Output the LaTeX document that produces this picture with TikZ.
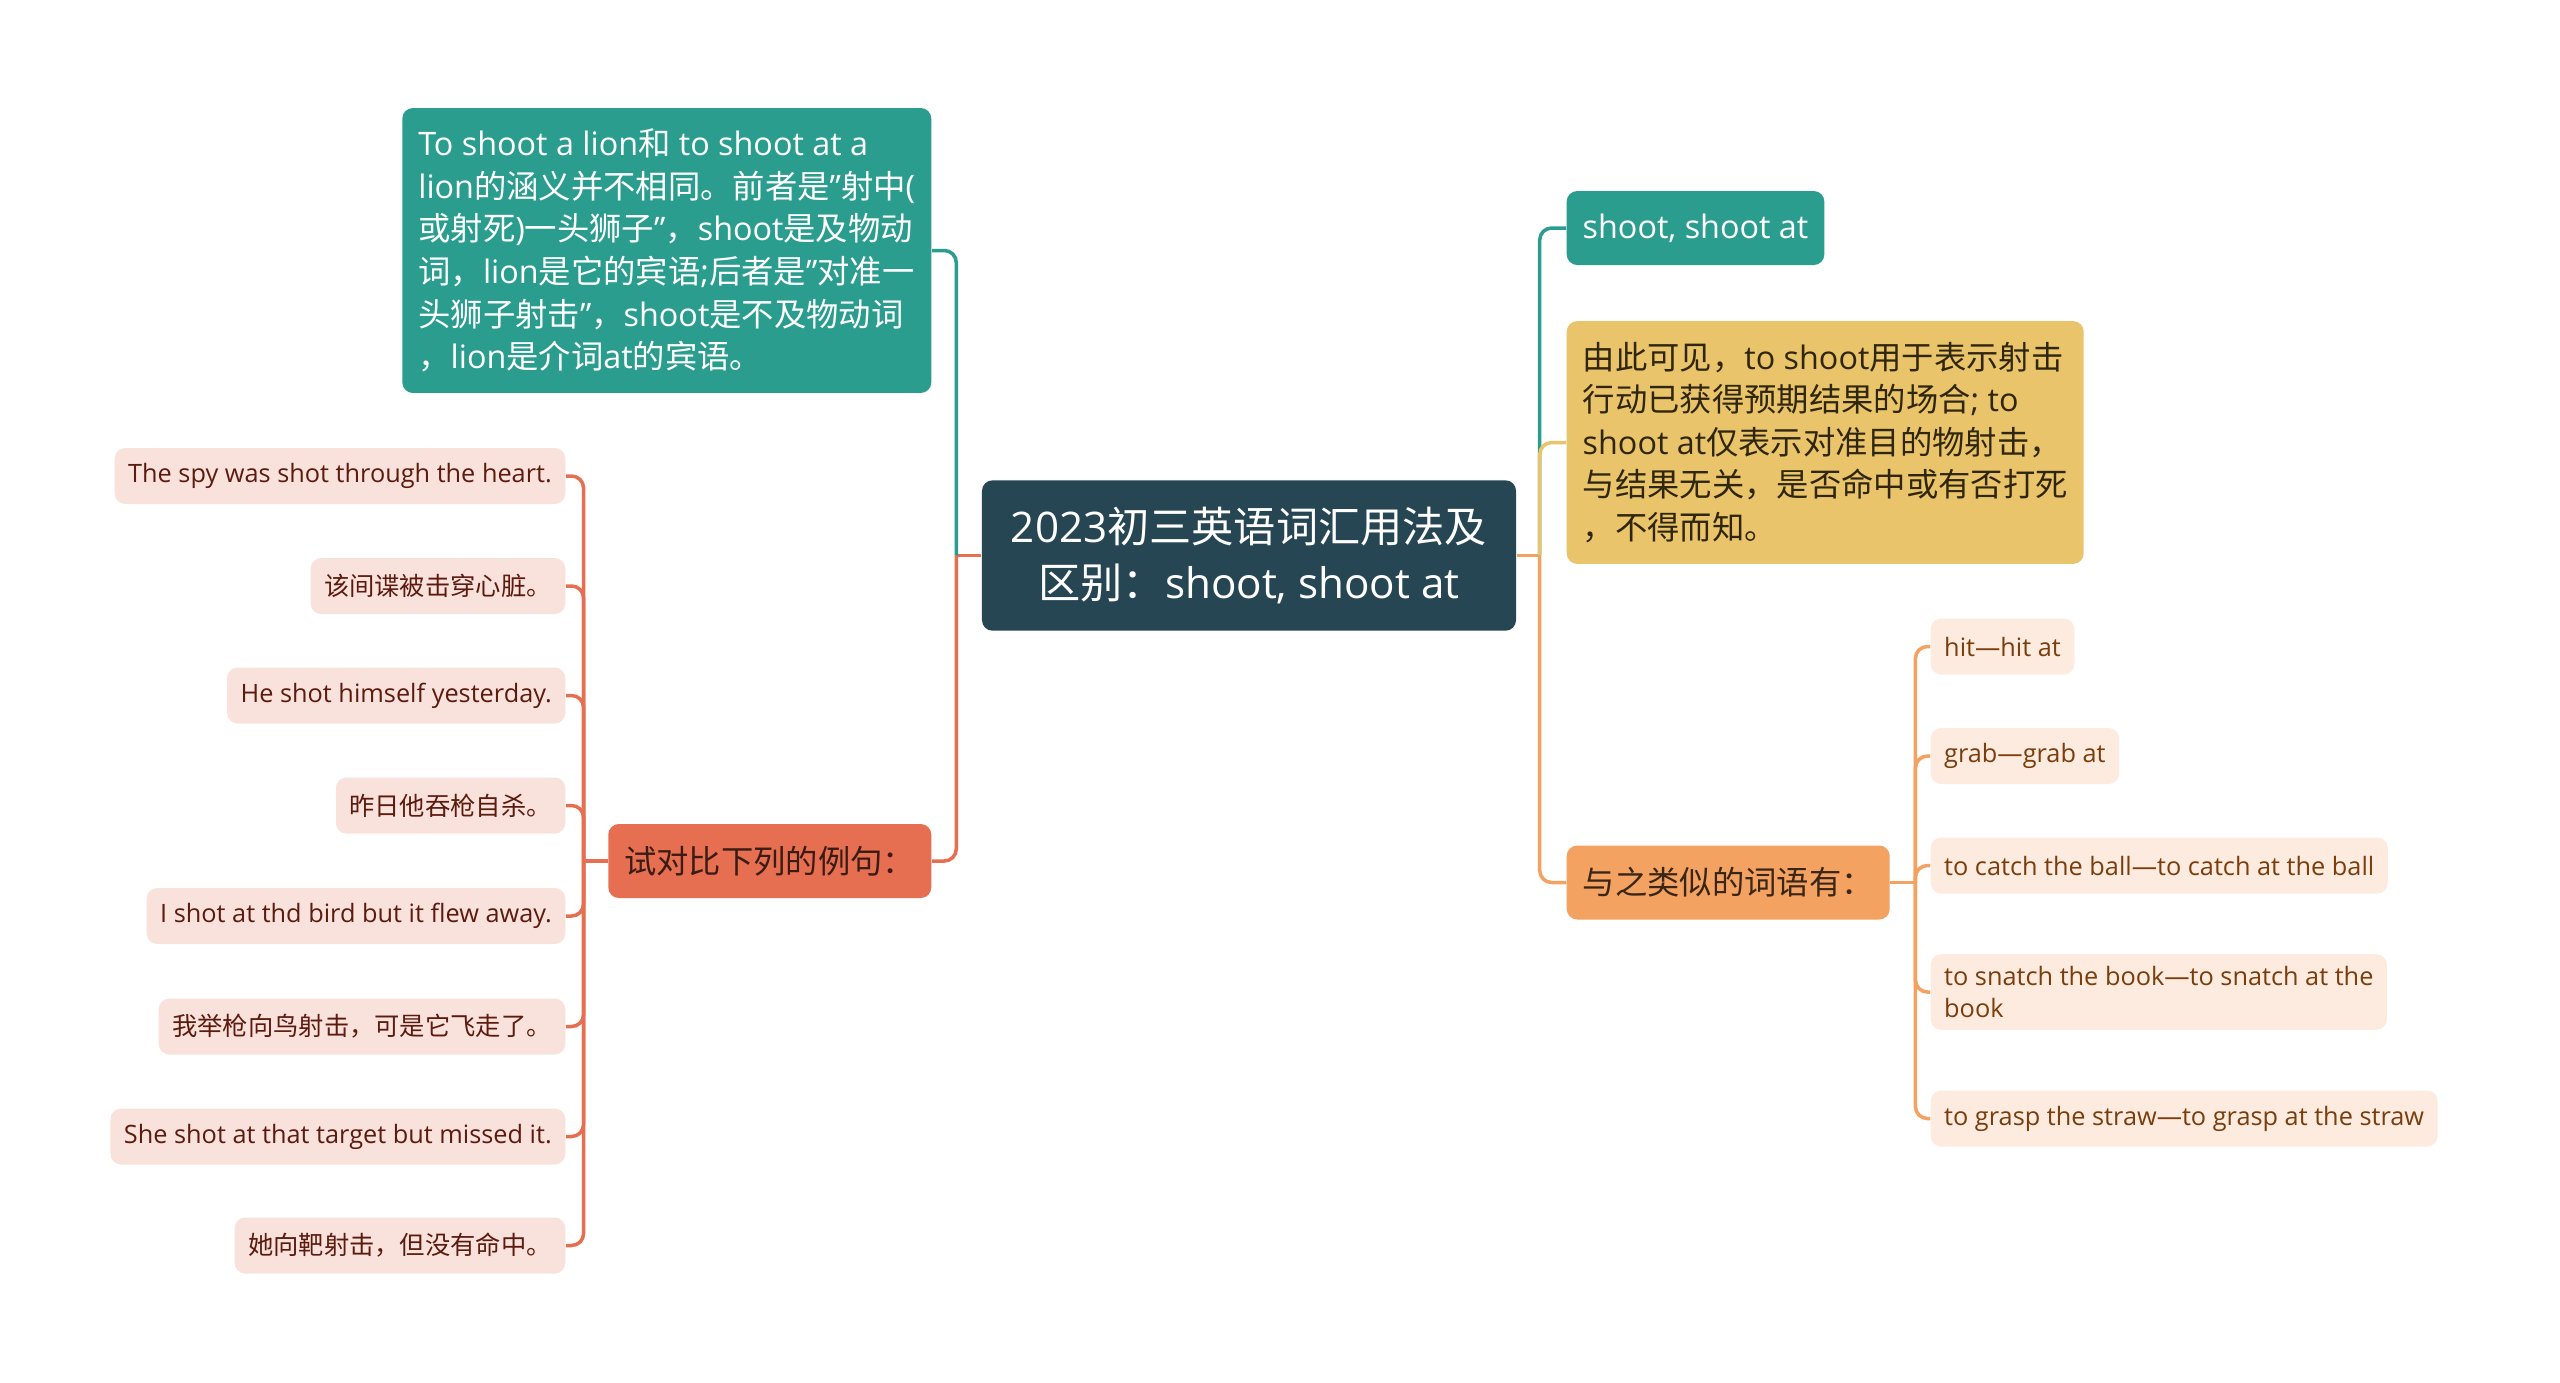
\documentclass[tikz,border=0pt]{standalone}
\usepackage{fontspec}
\setmainfont{Open Sans}
\newfontfamily\zhfont{Noto Sans CJK SC}
\newcommand\zh[1]{{\zhfont #1}}

\definecolor{rootc}{HTML}{264653}
\definecolor{tealc}{HTML}{2A9D8F}
\definecolor{yellc}{HTML}{E9C46A}
\definecolor{orac}{HTML}{F4A261}
\definecolor{redc}{HTML}{E76F51}
\definecolor{pinkc}{HTML}{F9E2DC}
\definecolor{peachc}{HTML}{FDEBDF}
\definecolor{yellt}{HTML}{30260C}
\definecolor{orat}{HTML}{3A2616}
\definecolor{redt}{HTML}{3A1C14}
\definecolor{pinkt}{HTML}{5C1B0E}
\definecolor{peacht}{HTML}{7A3D0B}

\begin{document}
\begin{tikzpicture}[
	every node/.style={rounded corners=3pt, inner xsep=0.16cm},
	topic/.style={fill=rootc, text=white, font=\fontsize{12}{15.8}\selectfont, align=center, inner xsep=0.29cm, inner ysep=0.27cm},
	sub/.style={font=\fontsize{9.2}{12.1}\selectfont, minimum height=0.74cm, inner ysep=0.21cm, align=left},
	leaf/.style={font=\fontsize{7.2}{9.3}\selectfont, minimum height=0.56cm, inner xsep=0.135cm, align=left},
	link/.style={line width=1pt, rounded corners=0.12cm},
]
			\fill[white] (0,0) rectangle (25.6,-13.82);
			% centre
			\node[topic] at (12.49,-5.555) (root) {2023\zh{初三英语词汇用法及}\\\zh{区别：}shoot, shoot at};
			% left side
			\node[sub, fill=tealc, text=white, anchor=east] at (9.32,-2.505) (lion) {To shoot a lion\zh{和} to shoot at a\\lion\zh{的涵义并不相同。前者是}"\zh{射中}(\\\zh{或射死})\zh{一头狮子}"\zh{，}shoot\zh{是及物动}\\\zh{词，}lion\zh{是它的宾语};\zh{后者是}"\zh{对准一}\\\zh{头狮子射击}"\zh{，}shoot\zh{是不及物动词}\\\zh{，}lion\zh{是介词}at\zh{的宾语。}};
			\node[sub, fill=redc, text=redt, anchor=east] at (9.32,-8.61) (cmp) {\zh{试对比下列的例句：}};
			% right side
			\node[sub, fill=tealc, text=white, anchor=west] at (15.66,-2.28) (shoot) {shoot, shoot at};
			\node[sub, fill=yellc, text=yellt, anchor=west] at (15.66,-4.425) (note) {\zh{由此可见，}to shoot\zh{用于表示射击}\\\zh{行动已获得预期结果的场合}; to\\shoot at\zh{仅表示对准目的物射击，}\\\zh{与结果无关，是否命中或有否打死}\\\zh{，不得而知。}};
			\node[sub, fill=orac, text=orat, anchor=west] at (15.66,-8.825) (like) {\zh{与之类似的词语有：}};
			% example sentences
			\node[leaf, fill=pinkc, text=pinkt, anchor=east] at (5.66,-4.76) (e1) {The spy was shot through the heart.};
			\node[leaf, fill=pinkc, text=pinkt, anchor=east] at (5.66,-5.86) (e2) {\zh{该间谍被击穿心脏。}};
			\node[leaf, fill=pinkc, text=pinkt, anchor=east] at (5.66,-6.955) (e3) {He shot himself yesterday.};
			\node[leaf, fill=pinkc, text=pinkt, anchor=east] at (5.66,-8.055) (e4) {\zh{昨日他吞枪自杀。}};
			\node[leaf, fill=pinkc, text=pinkt, anchor=east] at (5.66,-9.16) (e5) {I shot at thd bird but it flew away.};
			\node[leaf, fill=pinkc, text=pinkt, anchor=east] at (5.66,-10.265) (e6) {\zh{我举枪向鸟射击，可是它飞走了。}};
			\node[leaf, fill=pinkc, text=pinkt, anchor=east] at (5.66,-11.365) (e7) {She shot at that target but missed it.};
			\node[leaf, fill=pinkc, text=pinkt, anchor=east] at (5.66,-12.455) (e8) {\zh{她向靶射击，但没有命中。}};
			% similar words
			\node[leaf, fill=peachc, text=peacht, anchor=west] at (19.30,-6.465) (w1) {hit---hit at};
			\node[leaf, fill=peachc, text=peacht, anchor=west] at (19.30,-7.56) (w2) {grab---grab at};
			\node[leaf, fill=peachc, text=peacht, anchor=west] at (19.30,-8.655) (w3) {to catch the ball---to catch at the ball};
			\node[leaf, fill=peachc, text=peacht, anchor=west] at (19.30,-9.92) (w4) {to snatch the book---to snatch at the\\book};
			\node[leaf, fill=peachc, text=peacht, anchor=west] at (19.30,-11.185) (w5) {to grasp the straw---to grasp at the straw};
			% branches
			\coordinate (jl) at ([xshift=-0.25cm]root.west);
			\coordinate (jr) at ([xshift=0.23cm]root.east);
			\draw[link, redc] (root.west) -- (jl);
			\draw[link, tealc] (jl) |- (lion.east);
			\draw[link, redc] (jl) |- (cmp.east);
			\draw[link, orac] (root.east) -- (jr);
			\draw[link, tealc] (jr) |- (shoot.west);
			\draw[link, yellc] (jr) |- (note.west);
			\draw[link, orac] (jr) |- (like.west);
			\coordinate (jc) at ([xshift=-0.24cm]cmp.west);
			\draw[link, redc] (cmp.west) -- (jc);
			\draw[link, redc] (jc) |- (e1.east);
			\draw[link, redc] (jc) |- (e2.east);
			\draw[link, redc] (jc) |- (e3.east);
			\draw[link, redc] (jc) |- (e4.east);
			\draw[link, redc] (jc) |- (e5.east);
			\draw[link, redc] (jc) |- (e6.east);
			\draw[link, redc] (jc) |- (e7.east);
			\draw[link, redc] (jc) |- (e8.east);
			\coordinate (jk) at ([xshift=0.25cm]like.east);
			\draw[link, orac] (like.east) -- (jk);
			\draw[link, orac] (jk) |- (w1.west);
			\draw[link, orac] (jk) |- (w2.west);
			\draw[link, orac] (jk) |- (w3.west);
			\draw[link, orac] (jk) |- (w4.west);
			\draw[link, orac] (jk) |- (w5.west);
\end{tikzpicture}
\end{document}
